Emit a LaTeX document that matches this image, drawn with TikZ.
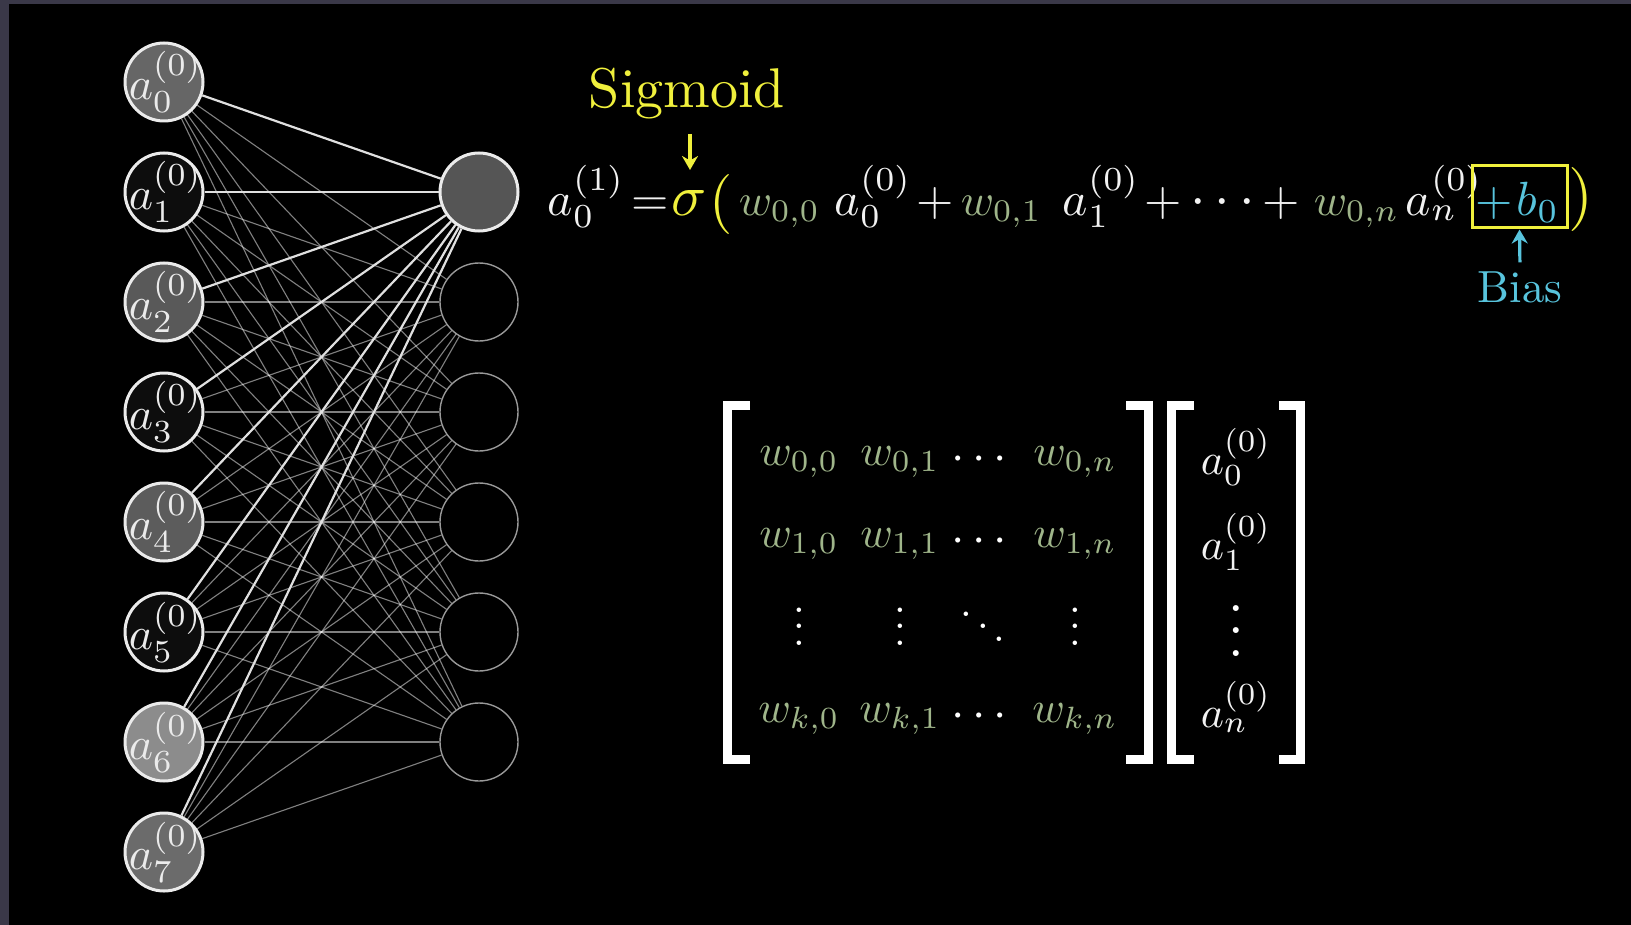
\documentclass[tikz,border=0pt]{standalone}
\usepackage{amsmath}
\usetikzlibrary{arrows.meta}
\definecolor{bord}{HTML}{3A3848}
\definecolor{wcol}{HTML}{9FB58A}
\definecolor{ycol}{HTML}{F0F03C}
\definecolor{bcol}{HTML}{58C4DD}
\definecolor{fA}{HTML}{666666}
\definecolor{fB}{HTML}{0D0D0D}
\definecolor{fC}{HTML}{595959}
\definecolor{fD}{HTML}{5C5C5C}
\definecolor{fE}{HTML}{8C8C8C}
\definecolor{fF}{HTML}{6B6B6B}
\definecolor{fO}{HTML}{555555}
\begin{document}
\begin{tikzpicture}[x=0.5pt,y=-0.5pt,
  inp/.style={circle, draw=white!92!black, line width=1.5pt, minimum size=39pt, inner sep=0pt},
  outp/.style={circle, draw=white!60!black, line width=0.7pt, minimum size=39pt, inner sep=0pt},
  lab/.style={inner sep=0pt, scale=2.3, text=white!92!black},
  eqt/.style={inner sep=0pt, anchor=base west, scale=2.4, text=white!95!black},
  eqy/.style={inner sep=0pt, anchor=base west, scale=2.9, text=ycol},
  eqp/.style={inner sep=0pt, anchor=base west, scale=3.0, text=ycol},
  eqb/.style={inner sep=0pt, anchor=base west, scale=2.4, text=bcol},
  wt/.style={inner sep=0pt, anchor=base west, scale=2.25, text=wcol},
  mw/.style={inner sep=0pt, anchor=base, scale=2.2, text=wcol},
  ma/.style={inner sep=0pt, anchor=base, scale=2.2, text=white!95!black},
  md/.style={inner sep=0pt, anchor=center, scale=2.1, text=white},
  mc/.style={inner sep=0pt, anchor=base, scale=2.4, text=white},
  thin/.style={draw=white, opacity=0.5, line width=0.55pt},
  bright/.style={draw=white!88!black, line width=1.1pt},
  brk/.style={draw=white, line width=4.5pt, line join=miter, line cap=butt},
  arr/.style={line width=1.6pt, -{Stealth[length=7pt,width=8pt]}}
]
\useasboundingbox (0,0) rectangle (1631,925);
\fill[bord] (0,0) rectangle (1631,925);
\fill[black] (9,4) rectangle (1631,925);

% input layer
\node[inp, fill=fA] (a0) at (164,82) {};
\node[inp, fill=fB] (a1) at (164,192) {};
\node[inp, fill=fC] (a2) at (164,302) {};
\node[inp, fill=fB] (a3) at (164,412) {};
\node[inp, fill=fD] (a4) at (164,522) {};
\node[inp, fill=fB] (a5) at (164,632) {};
\node[inp, fill=fE] (a6) at (164,742) {};
\node[inp, fill=fF] (a7) at (164,852) {};

% output layer
\node[inp, fill=fO] (o0) at (479,192) {};
\node[outp] (o1) at (479,302) {};
\node[outp] (o2) at (479,412) {};
\node[outp] (o3) at (479,522) {};
\node[outp] (o4) at (479,632) {};
\node[outp] (o5) at (479,742) {};

% connections
\foreach \i in {0,...,7}{
  \foreach \j in {1,...,5}{
    \draw[thin] (a\i) -- (o\j);
  }
}
\foreach \i in {0,...,7}{
  \draw[bright] (a\i) -- (o0);
}

% input labels
\foreach \i in {0,...,7}{
  \node[lab] (la\i) at ([xshift=0.8pt]a\i.center) {$a_{\i}^{(0)}$};
}

% equation
\node[inner sep=0pt, anchor=base, scale=2.8, text=ycol] (sgm) at (687,108) {Sigmoid};
\node[eqt] (e1) at (547,215) {$a_0^{(1)}$};
\node[eqt] (eqs) at (631,215) {$=$};
\node[eqy] (sig) at (670,215) {$\sigma$};
\node[eqp] (lp) at (708,220) {$($};
\node[wt] (w00) at (738,215) {$w_{0,0}$};
\node[eqt] (x0) at (834,215) {$a_0^{(0)}$};
\node[eqt] (p1) at (916,215) {$+$};
\node[wt] (w01) at (960,215) {$w_{0,1}$};
\node[eqt] (x1) at (1062,215) {$a_1^{(0)}$};
\node[eqt] (p2) at (1144,215) {$+$};
\node[inner sep=0pt, anchor=base west, scale=2.8, text=white!95!black] (dd) at (1189,216) {$\cdots$};
\node[eqt] (p3) at (1262,215) {$+$};
\node[wt] (w0n) at (1313,215) {$w_{0,n}$};
\node[eqt] (xn) at (1405,215) {$a_n^{(0)}$};
\node[eqb] (pb) at (1475,215) {$+$};
\node[eqb] (b0) at (1516,215) {$b_0$};
\node[draw=ycol, line width=1.5pt, minimum width=47.5pt, minimum height=31pt, inner sep=0pt] (box) at (1519.5,197) {};
\node[inner sep=0pt, anchor=base west, scale=3.2, text=ycol] (rp) at (1567,215) {$)$};

\coordinate (sa) at (690,134);
\coordinate (sb) at (690,170);
\draw[arr, ycol] (sa) -- (sb);

\node[inner sep=0pt, anchor=base, scale=2.25, text=bcol] (bias) at (1520,302) {Bias};
\draw[arr, bcol, shorten <=4pt] (bias.north) -- (box.south);

% matrix brackets
\coordinate (L1) at (750,405); \coordinate (L2) at (727.5,405); \coordinate (L3) at (727.5,759); \coordinate (L4) at (750,759);
\draw[brk] (L1) -- (L2) -- (L3) -- (L4);
\coordinate (R1) at (1126,405); \coordinate (R2) at (1148,405); \coordinate (R3) at (1148,759); \coordinate (R4) at (1126,759);
\draw[brk] (R1) -- (R2) -- (R3) -- (R4);
\coordinate (V1) at (1194,405); \coordinate (V2) at (1171.5,405); \coordinate (V3) at (1171.5,759); \coordinate (V4) at (1194,759);
\draw[brk] (V1) -- (V2) -- (V3) -- (V4);
\coordinate (U1) at (1279,405); \coordinate (U2) at (1300.5,405); \coordinate (U3) at (1300.5,759); \coordinate (U4) at (1279,759);
\draw[brk] (U1) -- (U2) -- (U3) -- (U4);

% matrix entries
\node[mw] (m00) at (799,465) {$w_{0,0}$};
\node[mw] (m01) at (900,465) {$w_{0,1}$};
\node[mc] (m02) at (983,470) {$\cdots$};
\node[mw] (m03) at (1075,465) {$w_{0,n}$};
\node[mw] (m10) at (799,547) {$w_{1,0}$};
\node[mw] (m11) at (900,547) {$w_{1,1}$};
\node[mc] (m12) at (983,552) {$\cdots$};
\node[mw] (m13) at (1075,547) {$w_{1,n}$};
\node[md] (m20) at (799,614) {$\vdots$};
\node[md] (m21) at (900,614) {$\vdots$};
\node[md] (m22) at (983,614) {$\ddots$};
\node[md] (m23) at (1075,614) {$\vdots$};
\node[mw] (m30) at (799,722) {$w_{k,0}$};
\node[mw] (m31) at (900,722) {$w_{k,1}$};
\node[mc] (m32) at (983,727) {$\cdots$};
\node[mw] (m33) at (1075,722) {$w_{k,n}$};

% vector entries
\node[ma] (v0) at (1236,474) {$a_0^{(0)}$};
\node[ma] (v1) at (1236,559) {$a_1^{(0)}$};
\node[inner sep=0pt, anchor=center, scale=2.8, text=white] (v2) at (1236,614) {$\vdots$};
\node[ma] (v3) at (1236,727) {$a_n^{(0)}$};
\end{tikzpicture}
\end{document}
